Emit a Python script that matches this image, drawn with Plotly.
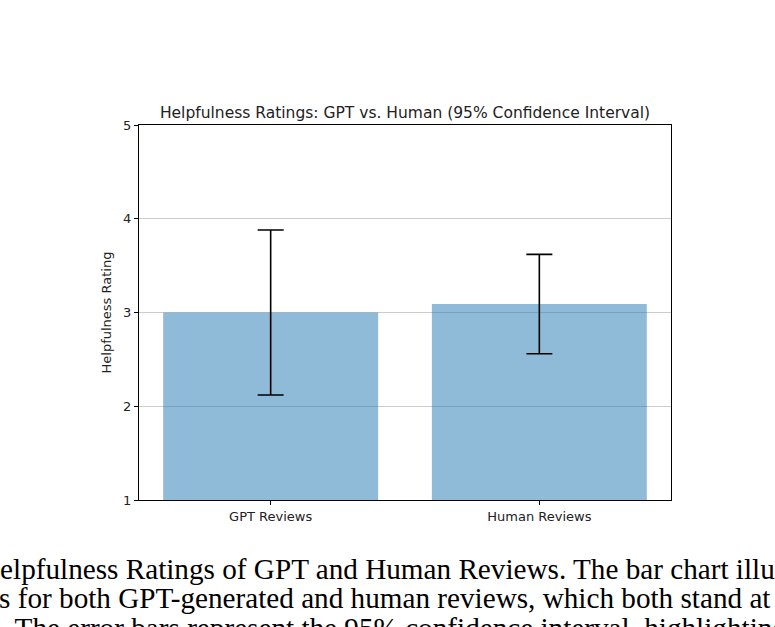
import plotly.graph_objects as go

categories = ["GPT Reviews", "Human Reviews"]
mean_ratings = [3.0, 3.09]
ci_95 = [0.88, 0.53]
y_ticks = [1, 2, 3, 4, 5]

caption_lines = [
    "Helpfulness Ratings of GPT and Human Reviews. The bar chart illustrates the average",
    "ratings for both GPT-generated and human reviews, which both stand at approximately",
    "3.0. The error bars represent the 95% confidence interval, highlighting the variability",
]

W, H = 775, 627
L, R, T, B = 139, 104, 125, 127
PW, PH = W - L - R, H - T - B

def px_x(px):
    return (px - L) / PW

def px_y(py):
    return (H - B - py) / PH

fig = go.Figure()
fig.add_trace(go.Bar(
    x=[0, 1],
    y=mean_ratings,
    width=0.8,
    marker=dict(color="rgba(31,119,180,0.5)", line=dict(width=0)),
    error_y=dict(type="data", array=ci_95, visible=True, color="black",
                 thickness=1.6, width=13),
    showlegend=False,
))

cap_font = dict(family="Liberation Serif, Times New Roman, serif", size=29.2, color="black")
cap_specs = [(-23, 580), (-71, 609), (-38, 639)]
annotations = []
for text, (sx, base) in zip(caption_lines, cap_specs):
    annotations.append(dict(
        text=text, xref="paper", yref="paper",
        x=px_x(sx), y=px_y(base + 7), xanchor="left", yanchor="bottom",
        showarrow=False, font=cap_font, align="left",
    ))

fig.update_layout(
    width=W, height=H,
    margin=dict(l=L, r=R, t=T, b=B, pad=0),
    paper_bgcolor="white", plot_bgcolor="white",
    font=dict(family="DejaVu Sans, sans-serif", size=13, color="#222"),
    title=dict(text="Helpfulness Ratings: GPT vs. Human (95% Confidence Interval)",
               x=0.5, xref="paper", y=1, yref="paper", xanchor="center", yanchor="bottom",
               pad=dict(b=7), font=dict(family="DejaVu Sans, sans-serif", size=15.5, color="#222")),
    xaxis=dict(range=[-0.49, 1.49], tickmode="array", tickvals=[0, 1], ticktext=categories,
               showgrid=False, zeroline=False, showline=True, linecolor="black", linewidth=1,
               mirror=True, ticks="outside", ticklen=4, tickcolor="black",
               tickfont=dict(size=13)),
    yaxis=dict(range=[1, 5], tickmode="array", tickvals=y_ticks,
               showgrid=True, gridcolor="#cccccc", gridwidth=1, zeroline=False,
               showline=True, linecolor="black", linewidth=1, mirror=True,
               ticks="outside", ticklen=4, tickcolor="black",
               tickfont=dict(size=13),
               title=dict(text="Helpfulness Rating", font=dict(size=13), standoff=8)),
    annotations=annotations,
    bargap=0.2,
)

fig.write_html("out.html")
